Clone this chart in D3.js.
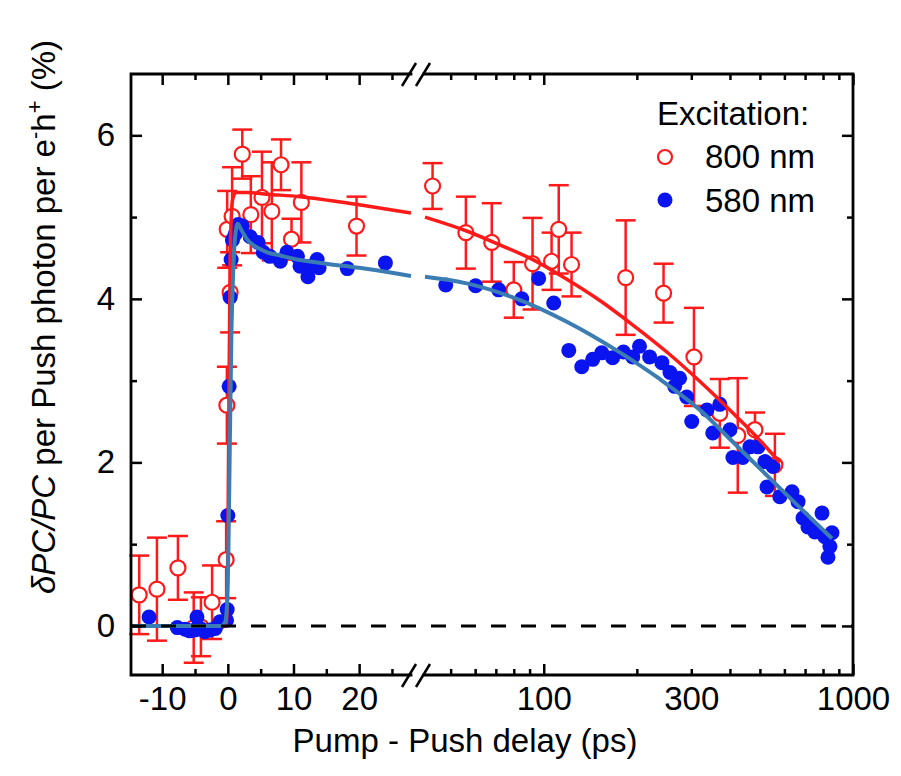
<!DOCTYPE html>
<html>
<head>
<meta charset="utf-8">
<script src="https://cdn.jsdelivr.net/npm/d3@7"></script>
<style>
  body { margin: 0; background: #fff; }
  svg { display: block; font-family: "Liberation Sans", Arial, sans-serif; }
</style>
</head>
<body>
<svg id="chart" width="901" height="776"></svg>
<script>
// ---- data ----
// 800 nm excitation (open red circles, with error bars)
var red800Time = [-13.5, -10.8, -7.6, -5.2, -4.1, -2.4, -0.26, -0.15, 0.35, -0.1, 0.65,
    2.2, 3.5, 5.2, 6.7, 8.1, 9.7, 11.2, 19.6,
    43.7, 56, 67.9, 80, 92, 106, 111.8, 123, 184, 244, 306, 371, 424, 482, 559];
var red800Value = [0.38, 0.45, 0.71, -0.02, -0.01, 0.29, 0.81, 2.70, 4.08, 4.85, 5.01,
    5.77, 5.03, 5.24, 5.07, 5.64, 4.73, 5.18, 4.89,
    5.38, 4.81, 4.69, 4.11, 4.43, 4.46, 4.85, 4.42, 4.26, 4.07, 3.29, 2.60, 2.33, 2.40, 1.97];
var red800Err = [0.48, 0.63, 0.39, 0.43, 0.36, 0.45, 0.47, 0.47, 0.49, 0.47, 0.6,
    0.3, 0.47, 0.56, 0.6, 0.31, 0.25, 0.49, 0.36,
    0.28, 0.44, 0.48, 0.34, 0.56, 0.35, 0.54, 0.39, 0.70, 0.36, 0.6, 0.42, 0.70, 0.21, 0.38];

// 580 nm excitation (filled blue circles)
var blue580Time = [-12, -7.7, -6.5, -5.8, -5, -4.7, -4.2, -3.5, -2.7, -1.9, -1.2, -0.1, -0.2,
    0.0, 0.2, 0.35, 0.5, 0.7, 1.1, 1.6, 2.2, 3.4, 4.6, 5.4, 6.4, 8.0, 9.0, 10.6, 11.0,
    12.2, 12.5, 13.6, 13.9, 18.2, 24.0,
    48.2, 60.2, 71.5, 84.9, 96.3, 107.7, 120.5, 132.7, 144, 154, 167, 181, 194, 204, 220,
    241, 256, 275, 265, 290, 301, 337, 352, 371, 400, 409, 440, 464, 493, 519, 551, 527,
    580, 635, 664, 689, 715, 753, 794, 811, 830, 842, 855];
var blue580Value = [0.11, -0.02, -0.04, -0.06, -0.05, 0.11, -0.03, -0.07, -0.05, -0.03, 0.05, 0.2, 0.07,
    1.35, 2.93, 4.02, 4.48, 4.72, 4.79, 4.91, 4.89, 4.76, 4.69, 4.57, 4.52, 4.46, 4.57, 4.52, 4.40,
    4.27, 4.40, 4.48, 4.38, 4.37, 4.44,
    4.17, 4.16, 4.11, 4.00, 4.25, 3.95, 3.37, 3.17, 3.26, 3.34, 3.28, 3.35, 3.29, 3.42, 3.29,
    3.22, 3.10, 3.03, 2.93, 2.80, 2.50, 2.64, 2.36, 2.71, 2.40, 2.06, 2.06, 2.19, 2.19, 2.01, 1.95, 1.70,
    1.58, 1.64, 1.52, 1.32, 1.21, 1.15, 1.38, 1.09, 0.84, 0.97, 1.14];

// fitted curves
var fit800Time = [-1, -0.3, -0.1, 0.1, 0.35, 0.7, 1.2, 3, 6, 11, 20, 27.9,
    41.3, 56.3, 72.1, 92.2, 118.7, 151.8, 194.2, 250, 320, 415, 500, 580];
var fit800Value = [0, 0, 0.2, 2.0, 4.5, 5.2, 5.3, 5.3, 5.28, 5.25, 5.15, 5.05,
    5.0, 4.83, 4.66, 4.48, 4.24, 3.98, 3.68, 3.35, 2.99, 2.58, 2.27, 2.0];
var fit580Time = [-14.75, -3, -1, -0.4, -0.1, 0.1, 0.3, 0.55, 0.8, 1.1, 1.5, 2.0, 3, 4, 6, 8,
    10, 15, 20, 25, 27.9,
    41.3, 56.3, 81.9, 118.7, 172, 237, 320, 409, 527, 672, 855];
var fit580Value = [0, 0, 0, 0.05, 0.3, 1.0, 2.2, 3.6, 4.3, 4.75, 4.92, 4.85, 4.72, 4.65, 4.57, 4.53,
    4.49, 4.43, 4.38, 4.32, 4.28,
    4.27, 4.19, 4.0, 3.72, 3.37, 3.02, 2.64, 2.25, 1.84, 1.45, 1.07];

// axes
var yMajorTicks = [0, 2, 4, 6];
var yMinorTicks = [1, 3, 5];
var xLeftMajor = [-10, 0, 10, 20];
var xLeftMinor = [-5, 5, 15, 25];
var xRightMinor = [50, 60, 70, 80, 90, 200, 300, 400, 500, 600, 700, 800, 900];
var xRightMajor = [100, 1000];
var xRightLabels = [100, 300, 1000];

(function() {
    var plotLeft = 131, plotRight = 853, plotTop = 74, plotBottom = 675;
    var breakL = 411, breakR = 424;
    var red = "#ff1a1a", blue = "#0a14ef", fitBlue = "#3b7db3";

    var svg = d3.select("#chart");

    var xL = d3.scaleLinear().domain([-14.75, 27.9]).range([plotLeft, breakL]);
    var xR = d3.scaleLog().domain([41, 1000]).range([breakR, plotRight]);
    var y = d3.scaleLinear().domain([-0.6, 6.75]).range([plotBottom, plotTop]);
    function x(t) { return t < 35 ? xL(t) : xR(t); }
    var plain = function(d) { return String(d); };

    var g = svg.append("g");

    // 800 nm error bars and circles
    var red800 = red800Time.map(function(t, i) {
        return {t: t, v: red800Value[i], e: red800Err[i]};
    });
    var eb = g.append("g").attr("stroke", red).attr("stroke-width", 2.5).attr("fill", "none");
    red800.forEach(function(d) {
        var cx = x(d.t);
        eb.append("line").attr("x1", cx).attr("x2", cx).attr("y1", y(d.v - d.e)).attr("y2", y(d.v + d.e));
        eb.append("line").attr("x1", cx - 10).attr("x2", cx + 10).attr("y1", y(d.v - d.e)).attr("y2", y(d.v - d.e));
        eb.append("line").attr("x1", cx - 10).attr("x2", cx + 10).attr("y1", y(d.v + d.e)).attr("y2", y(d.v + d.e));
    });
    g.append("g").selectAll("circle").data(red800).join("circle")
        .attr("cx", function(d) { return x(d.t); })
        .attr("cy", function(d) { return y(d.v); })
        .attr("r", 7.5)
        .attr("fill", "#fff").attr("stroke", red).attr("stroke-width", 2.2);

    // 580 nm points
    var blue580 = blue580Time.map(function(t, i) { return {t: t, v: blue580Value[i]}; });
    g.append("g").selectAll("circle").data(blue580).join("circle")
        .attr("cx", function(d) { return x(d.t); })
        .attr("cy", function(d) { return y(d.v); })
        .attr("r", 7.5)
        .attr("fill", blue);

    // fits, drawn separately on each side of the break
    function drawFit(times, values, color, width) {
        var pts = times.map(function(t, i) { return {t: t, v: values[i]}; });
        var line = d3.line()
            .x(function(d) { return x(d.t); })
            .y(function(d) { return y(d.v); })
            .curve(d3.curveMonotoneX);
        [pts.filter(function(d) { return d.t < 35; }), pts.filter(function(d) { return d.t >= 35; })]
            .forEach(function(seg) {
                g.append("path").datum(seg)
                    .attr("d", line)
                    .attr("fill", "none")
                    .attr("stroke", color)
                    .attr("stroke-width", width)
                    .attr("stroke-linejoin", "round");
            });
    }
    drawFit(fit800Time, fit800Value, red, 3.5);
    drawFit(fit580Time, fit580Value, fitBlue, 4);

    // zero line on top
    g.append("line")
        .attr("x1", plotLeft).attr("x2", plotRight)
        .attr("y1", y(0)).attr("y2", y(0))
        .attr("stroke", "#000").attr("stroke-width", 3)
        .attr("stroke-dasharray", "15,15");

    // ---- axes ----
    function styleAxis(sel) {
        sel.select(".domain").remove();
        sel.selectAll("line").attr("stroke", "#000").attr("stroke-width", 2.5);
        sel.selectAll("text").attr("fill", "#000").attr("font-size", 33);
    }
    var fmtNone = function() { return ""; };

    function addAxis(axis, tx, ty) {
        svg.append("g").attr("transform", "translate(" + tx + "," + ty + ")")
            .call(axis).call(styleAxis);
    }

    // bottom
    addAxis(d3.axisBottom(xL).tickValues(xLeftMajor).tickSize(-11).tickPadding(12).tickFormat(plain), 0, plotBottom);
    addAxis(d3.axisBottom(xL).tickValues(xLeftMinor).tickSize(-6).tickFormat(fmtNone), 0, plotBottom);
    addAxis(d3.axisBottom(xR).tickValues(xRightMajor).tickSize(-11).tickFormat(fmtNone), 0, plotBottom);
    addAxis(d3.axisBottom(xR).tickValues(xRightMinor).tickSize(-6).tickFormat(fmtNone), 0, plotBottom);
    addAxis(d3.axisBottom(xR).tickValues(xRightLabels).tickSize(0).tickPadding(12).tickFormat(plain), 0, plotBottom);

    // top (ticks only)
    addAxis(d3.axisTop(xL).tickValues(xLeftMajor).tickSize(-11).tickFormat(fmtNone), 0, plotTop);
    addAxis(d3.axisTop(xL).tickValues(xLeftMinor).tickSize(-6).tickFormat(fmtNone), 0, plotTop);
    addAxis(d3.axisTop(xR).tickValues(xRightMajor).tickSize(-11).tickFormat(fmtNone), 0, plotTop);
    addAxis(d3.axisTop(xR).tickValues(xRightMinor).tickSize(-6).tickFormat(fmtNone), 0, plotTop);

    // left
    addAxis(d3.axisLeft(y).tickValues(yMajorTicks).tickSize(-11).tickPadding(16).tickFormat(plain), plotLeft, 0);
    addAxis(d3.axisLeft(y).tickValues(yMinorTicks).tickSize(-6).tickFormat(fmtNone), plotLeft, 0);
    // right
    addAxis(d3.axisRight(y).tickValues(yMajorTicks).tickSize(-11).tickFormat(fmtNone), plotRight, 0);
    addAxis(d3.axisRight(y).tickValues(yMinorTicks).tickSize(-6).tickFormat(fmtNone), plotRight, 0);

    // frame with the axis break
    var frame = svg.append("g").attr("stroke", "#000").attr("stroke-width", 2.8).attr("fill", "none");
    frame.append("path").attr("d",
        "M" + breakL + "," + plotTop + "H" + plotLeft + "V" + plotBottom + "H" + breakL +
        "M" + breakR + "," + plotTop + "H" + plotRight + "V" + plotBottom + "H" + breakR)
        .attr("stroke-linecap", "square");
    [plotTop, plotBottom].forEach(function(yy) {
        [breakL - 2, breakR - 1].forEach(function(cx) {
            frame.append("line")
                .attr("x1", cx - 7).attr("y1", yy + 12)
                .attr("x2", cx + 7).attr("y2", yy - 11)
                .attr("stroke-width", 2.5);
        });
    });

    // axis titles
    svg.append("text")
        .attr("x", 465).attr("y", 752)
        .attr("text-anchor", "middle")
        .attr("font-size", 33)
        .text("Pump - Push delay (ps)");

    var yt = svg.append("text")
        .attr("transform", "translate(55,317) rotate(-90)")
        .attr("text-anchor", "middle")
        .attr("font-size", 33);
    yt.append("tspan").attr("font-style", "italic").text("\u03B4PC/PC");
    yt.append("tspan").text(" per Push photon per e");
    yt.append("tspan").attr("font-size", 22).attr("dy", -13).text("-");
    yt.append("tspan").attr("dy", 13).text("h");
    yt.append("tspan").attr("font-size", 22).attr("dy", -13).text("+");
    yt.append("tspan").attr("dy", 13).text("  (%)");

    // legend
    var lg = svg.append("g").attr("font-size", 33);
    lg.append("text").attr("x", 657).attr("y", 125).text("Excitation:");
    lg.append("circle").attr("cx", 665).attr("cy", 157).attr("r", 7)
        .attr("fill", "#fff").attr("stroke", red).attr("stroke-width", 2.2);
    lg.append("text").attr("x", 705).attr("y", 168).text("800 nm");
    lg.append("circle").attr("cx", 665).attr("cy", 200).attr("r", 7.5).attr("fill", blue);
    lg.append("text").attr("x", 705).attr("y", 212).text("580 nm");
})();
</script>
</body>
</html>
